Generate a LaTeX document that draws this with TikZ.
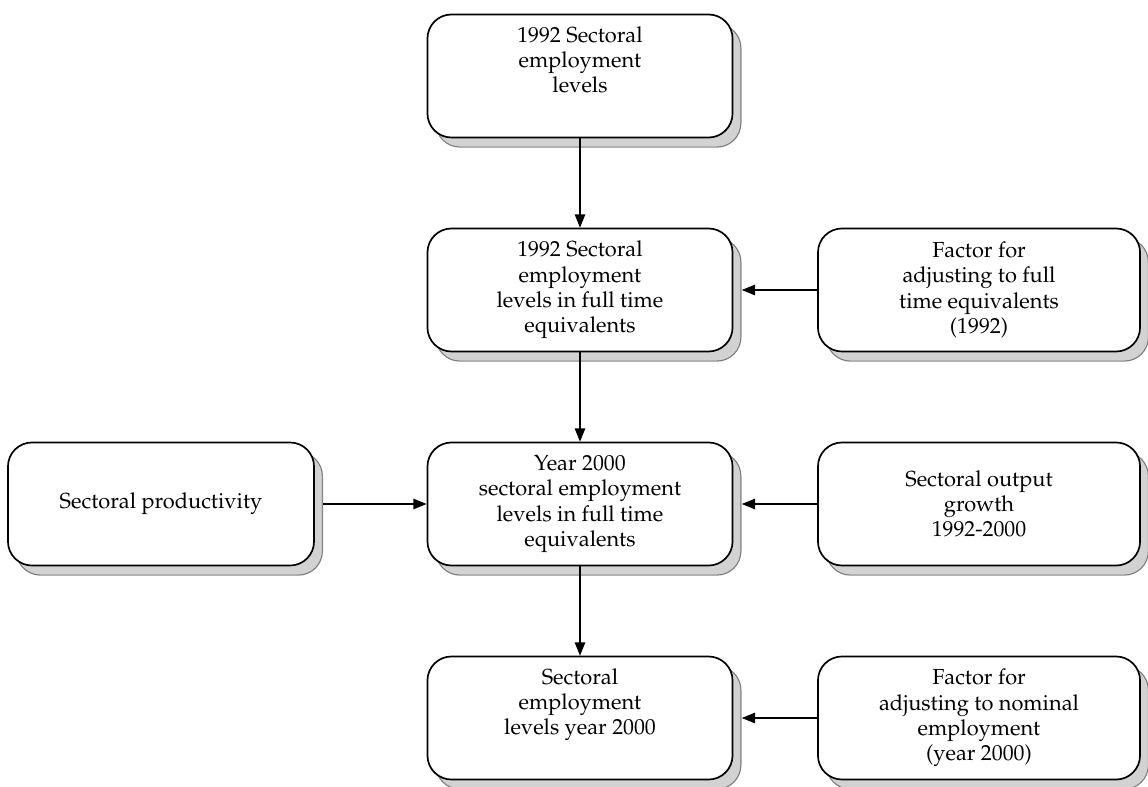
\documentclass[tikz,border=0pt]{standalone}
\usepackage[T1]{fontenc}
\usepackage{mathpazo}
\usepackage{tikz}
\usetikzlibrary{shadows,arrows.meta}

\tikzset{
  stage/.style={rounded corners=0.6cm, draw, line width=1.2pt, fill=white,
    align=center, inner sep=2pt, minimum height=3.075cm,
    font=\fontsize{15.5}{18}\selectfont,
    drop shadow={shadow xshift=0.21cm, shadow yshift=-0.24cm, fill=black!35, draw=black!90, line width=0.8pt}},
  link/.style={-{Triangle[length=3.3mm,width=2.6mm]}, line width=0.9pt}
}

\begin{document}
\begin{tikzpicture}[x=0.025cm, y=-0.025cm]
\useasboundingbox (0,0) rectangle (1148,787);
% Nodes
\foreach \name/\y/\txt in {lev/76/{1992 Sectoral\\employment\\levels\\\strut},
                           fte/290/{1992 Sectoral\\employment\\levels in full time\\equivalents},
                           yr/504/{Year 2000\\sectoral employment\\levels in full time\\equivalents},
                           fin/718/{Sectoral\\employment\\levels year 2000\\\strut}} {
  \node[stage, minimum width=7.625cm] (\name) at (580,\y) {\txt};
}
\foreach \name/\y/\txt in {adjfte/290/{Factor for\\adjusting to full\\time equivalents\\(1992)},
                           growth/504/{Sectoral output\\growth\\1992-2000},
                           adjnom/718/{Factor for\\adjusting to nominal\\employment\\(year 2000)}} {
  \node[stage, minimum width=8.05cm] (\name) at (979,\y) {\txt};
}
\node[stage, minimum width=7.65cm] (prod) at (161,504) {Sectoral productivity};
% Edges
\foreach \source/\target in {lev/fte, fte/yr, yr/fin} {
  \draw[link] (\source.south) -- (\target.north);
}
\foreach \source/\target in {adjfte/fte, growth/yr, adjnom/fin} {
  \draw[link] (\source.west) -- ([xshift=0.21cm]\target.east);
}
\draw[link] ([xshift=0.21cm]prod.east) -- (yr.west);
\end{tikzpicture}
\end{document}
